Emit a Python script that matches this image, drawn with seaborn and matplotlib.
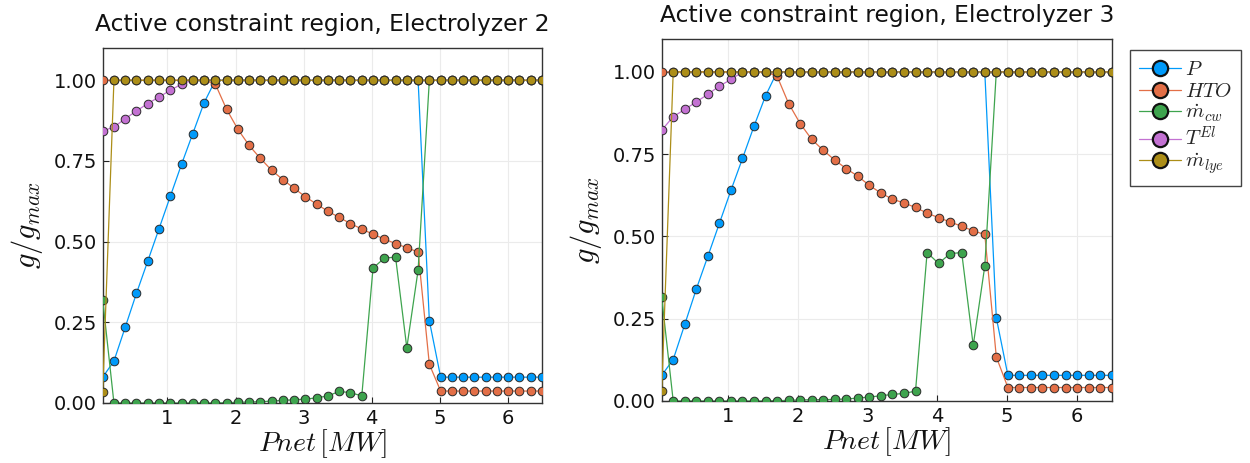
import numpy as np
import pandas as pd
import matplotlib
matplotlib.use("Agg")
import matplotlib.pyplot as plt
from matplotlib.lines import Line2D
import seaborn as sns

# ---------------- data ----------------
pnet = [0.05, 0.215, 0.381, 0.546, 0.712, 0.877, 1.042, 1.208, 1.373, 1.538,
        1.704, 1.869, 2.035, 2.2, 2.365, 2.531, 2.696, 2.862, 3.027, 3.192,
        3.358, 3.523, 3.688, 3.854, 4.019, 4.185, 4.35, 4.515, 4.681, 4.846,
        5.012, 5.177, 5.342, 5.508, 5.673, 5.838, 6.004, 6.169, 6.335, 6.5]

# Electrolyzer 2
el2_P = [0.08, 0.13, 0.235, 0.34, 0.44, 0.54, 0.64, 0.74, 0.835, 0.93,
         1.0, 1.0, 1.0, 1.0, 1.0, 1.0, 1.0, 1.0, 1.0, 1.0,
         1.0, 1.0, 1.0, 1.0, 1.0, 1.0, 1.0, 1.0, 1.0, 0.255,
         0.08, 0.08, 0.08, 0.08, 0.08, 0.08, 0.08, 0.08, 0.08, 0.08]
el2_HTO = [1.0, 1.0, 1.0, 1.0, 1.0, 1.0, 1.0, 1.0, 1.0, 1.0,
           0.988, 0.91, 0.848, 0.798, 0.758, 0.721, 0.692, 0.665, 0.639, 0.616,
           0.594, 0.575, 0.556, 0.539, 0.523, 0.508, 0.494, 0.481, 0.468, 0.12,
           0.037, 0.037, 0.037, 0.037, 0.037, 0.037, 0.037, 0.037, 0.037, 0.037]
el2_mcw = [0.32, 0.0, 0.0, 0.0, 0.0, 0.0, 0.0, 0.0, 0.0, 0.0,
           0.0, 0.001, 0.002, 0.003, 0.004, 0.006, 0.008, 0.010, 0.012, 0.016,
           0.022, 0.036, 0.032, 0.022, 0.418, 0.449, 0.452, 0.171, 0.412, 1.0,
           1.0, 1.0, 1.0, 1.0, 1.0, 1.0, 1.0, 1.0, 1.0, 1.0]
el2_TEl = [0.843, 0.855, 0.881, 0.905, 0.928, 0.948, 0.969, 0.988, 1.0, 1.0,
           1.0, 1.0, 1.0, 1.0, 1.0, 1.0, 1.0, 1.0, 1.0, 1.0,
           1.0, 1.0, 1.0, 1.0, 1.0, 1.0, 1.0, 1.0, 1.0, 1.0,
           1.0, 1.0, 1.0, 1.0, 1.0, 1.0, 1.0, 1.0, 1.0, 1.0]
el2_mlye = [0.035] + [1.0] * 39

# Electrolyzer 3
el3_P = [0.078, 0.126, 0.233, 0.34, 0.44, 0.54, 0.64, 0.737, 0.835, 0.927,
         1.0, 1.0, 1.0, 1.0, 1.0, 1.0, 1.0, 1.0, 1.0, 1.0,
         1.0, 1.0, 1.0, 1.0, 1.0, 1.0, 1.0, 1.0, 1.0, 0.253,
         0.078, 0.078, 0.078, 0.078, 0.078, 0.078, 0.078, 0.078, 0.078, 0.078]
el3_HTO = [1.0, 1.0, 1.0, 1.0, 1.0, 1.0, 1.0, 1.0, 1.0, 1.0,
           0.987, 0.904, 0.843, 0.795, 0.762, 0.732, 0.706, 0.683, 0.655, 0.632,
           0.613, 0.602, 0.588, 0.571, 0.557, 0.544, 0.531, 0.517, 0.506, 0.134,
           0.041, 0.041, 0.041, 0.041, 0.041, 0.041, 0.041, 0.041, 0.041, 0.041]
el3_mcw = [0.315, 0.0, 0.0, 0.0, 0.0, 0.0, 0.0, 0.0, 0.0, 0.0,
           0.001, 0.002, 0.003, 0.004, 0.004, 0.005, 0.006, 0.009, 0.012, 0.016,
           0.02, 0.023, 0.03, 0.451, 0.418, 0.448, 0.451, 0.169, 0.41, 1.0,
           1.0, 1.0, 1.0, 1.0, 1.0, 1.0, 1.0, 1.0, 1.0, 1.0]
el3_TEl = [0.823, 0.864, 0.886, 0.909, 0.932, 0.957, 0.977, 1.0, 1.0, 1.0,
           1.0, 1.0, 1.0, 1.0, 1.0, 1.0, 1.0, 1.0, 1.0, 1.0,
           1.0, 1.0, 1.0, 1.0, 1.0, 1.0, 1.0, 1.0, 1.0, 1.0,
           1.0, 1.0, 1.0, 1.0, 1.0, 1.0, 1.0, 1.0, 1.0, 1.0]
el3_mlye = [0.031] + [1.0] * 39

series_labels = [r"$P$", r"$HTO$", r"$\dot{m}_{cw}$", r"$T^{El}$", r"$\dot{m}_{lye}$"]
series_colors = ["#009AFA", "#E36F47", "#3EA44E", "#C371D2", "#AC8E18"]
titles = ["Active constraint region, Electrolyzer 2",
          "Active constraint region, Electrolyzer 3"]
x_ticks = [1, 2, 3, 4, 5, 6]
y_ticks = [0.0, 0.25, 0.5, 0.75, 1.0]
y_ticklabels = ["0.00", "0.25", "0.50", "0.75", "1.00"]

panels = [
    [el2_P, el2_HTO, el2_mcw, el2_TEl, el2_mlye],
    [el3_P, el3_HTO, el3_mcw, el3_TEl, el3_mlye],
]

# ---------------- style ----------------
sns.set_theme(style="white")
plt.rcParams["font.family"] = ["DejaVu Sans"]
plt.rcParams["mathtext.fontset"] = "cm"

W, H = 1250, 463
fig = plt.figure(figsize=(W / 100, H / 100), dpi=100)
ax_boxes = [
    (102.7, 48, 542.0, 403),
    (661.7, 39, 1111.7, 401),
]

for i, (vals, box) in enumerate(zip(panels, ax_boxes)):
    l, t, r, b = box
    ax = fig.add_axes([l / W, 1 - b / H, (r - l) / W, (b - t) / H])
    for j, (yv, lab, col) in enumerate(zip(vals, series_labels, series_colors)):
        df = pd.DataFrame({"x": pnet, "y": yv})
        sns.lineplot(data=df, x="x", y="y", ax=ax, color=col, linewidth=0.9,
                     marker="o", markersize=6.2, markeredgecolor="#2a2a2a",
                     markeredgewidth=0.7, estimator=None, sort=False,
                     label=lab, legend=False, zorder=3 + j)
    ax.set_xlim(0.05, 6.5)
    ax.set_ylim(0, 1.1)
    ax.set_xticks(x_ticks)
    ax.set_yticks(y_ticks)
    ax.set_yticklabels(y_ticklabels)
    ax.tick_params(axis="both", labelsize=14, direction="in", length=4,
                   width=0.8, color="#222222", bottom=True, left=True,
                   top=False, right=False, pad=4, labelcolor="#111111")
    ax.grid(True, color="#ebebeb", linewidth=0.8)
    ax.set_axisbelow(True)
    for s in ax.spines.values():
        s.set_color("#333333")
        s.set_linewidth(1.0)
    ax.set_title(titles[i], fontsize=16.8, pad=12, color="#111111")
    ax.set_xlabel(r"$Pnet\,[MW]$", fontsize=20, labelpad=0, color="#111111")
    ax.set_ylabel(r"$g/g_{max}$", fontsize=22, labelpad=6, color="#111111")

handles = [Line2D([0], [0], color=c, linewidth=0.9, marker="o", markersize=11,
                  markerfacecolor=c, markeredgecolor="#111111",
                  markeredgewidth=1.6) for c in series_colors]
leg = fig.legend(handles, series_labels, loc="upper left",
                 bbox_to_anchor=(1130 / W, 1 - 50 / H),
                 bbox_transform=fig.transFigure, fontsize=15,
                 frameon=True, fancybox=False, framealpha=1,
                 edgecolor="#444444", handlelength=2.0, handletextpad=0.2,
                 labelspacing=0.08, borderpad=0.45, borderaxespad=0)
leg.get_frame().set_linewidth(1.0)

fig.savefig("out.png", dpi=100)
